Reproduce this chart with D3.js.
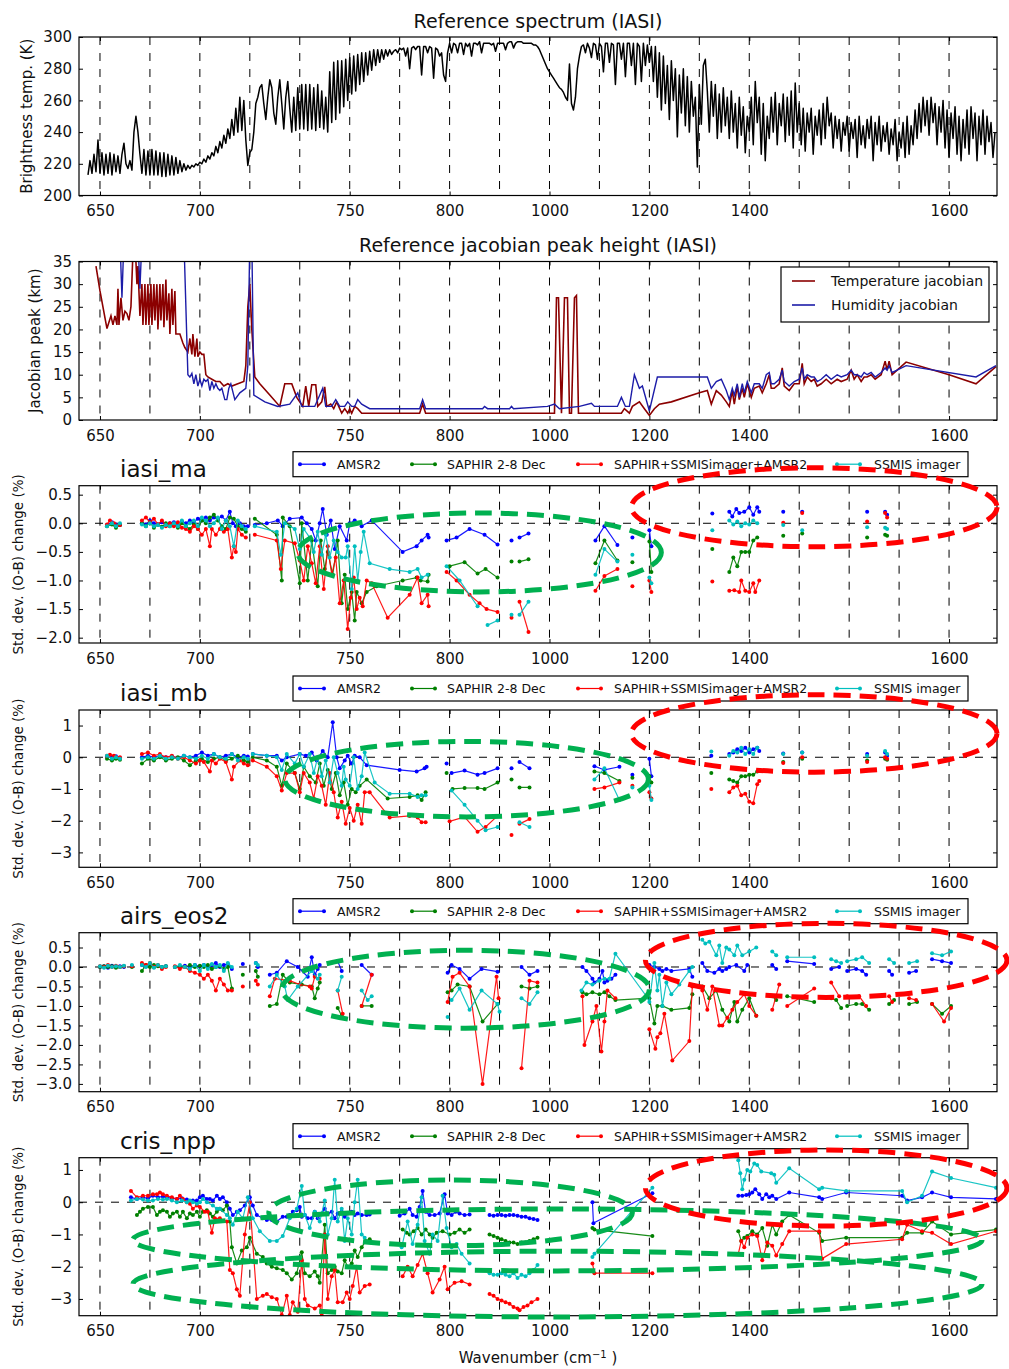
<!DOCTYPE html>
<html>
<head>
<meta charset="utf-8">
<script src="https://cdn.jsdelivr.net/npm/d3@7"></script>
<style>
body { margin: 0; background: #fff; }
text { font-family: "DejaVu Sans", sans-serif; }
</style>
</head>
<body>
<svg id="chart" width="1009" height="1369"></svg>
<script>
// x is the plot position of each channel; wavenumber labels sit at a few of them
const gridPos = [0, 50, 100, 150, 200, 250, 300, 350, 400, 450, 500, 550, 600, 650, 700, 750, 800, 850];
const labelPos = [0, 100, 250, 350, 450, 550, 650, 850];
const labelText = ['650', '700', '750', '800', '1000', '1200', '1400', '1600'];

// reference spectrum, one value every 2 plot units starting at -12
const specStart = -12;
const specStep = 2;
const specBT = [
  213,222,214,226,215,235,214,227,213,226,214,227,213,226,215,225,214,226,233,220,
  217,222,216,240,250,240,226,214,229,213,228,213,229,213,228,213,227,212,227,212,
  226,213,225,213,224,214,222,215,220,216,219,217,219,218,220,219,221,220,223,221,
  225,223,227,225,231,227,234,230,238,233,242,236,248,238,255,240,262,241,260,235,
  219,227,229,240,258,262,268,270,258,248,262,273,268,252,245,262,273,258,242,262,
  272,255,240,262,241,268,242,270,242,270,241,270,242,268,241,270,243,266,242,262,
  240,278,246,284,248,285,252,285,256,286,260,287,264,288,266,289,270,290,272,290,
  276,291,279,292,282,292,284,292,286,292,288,292,289,291,292,290,293,292,293,288,
  293,280,293,294,292,294,294,276,294,294,290,294,293,274,293,292,288,290,276,272,
  290,296,290,296,295,290,296,296,289,296,294,296,288,296,296,295,297,290,296,296,
  296,296,295,296,291,296,296,296,296,292,296,297,297,293,296,297,297,297,296,296,
  296,296,296,295,295,294,292,289,286,283,280,278,276,274,272,270,268,267,265,262,
  260,283,258,254,262,280,288,294,295,290,296,293,287,296,295,286,296,294,278,296,
  296,284,296,295,270,296,296,286,296,275,296,296,282,296,270,296,294,272,296,282,
  295,284,294,272,294,262,290,254,288,258,282,248,285,260,280,237,276,252,280,244,
  275,240,272,250,262,218,270,245,282,286,266,240,272,250,270,236,264,240,268,244,
  262,236,266,240,258,230,262,238,256,227,250,240,262,232,272,246,262,226,258,222,
  250,236,262,240,265,232,258,244,264,234,262,238,266,230,271,240,258,232,255,228,
  252,240,255,226,250,238,254,232,258,236,262,244,252,230,250,236,248,228,246,238,
  250,228,246,236,248,224,250,232,244,230,248,236,250,222,246,232,250,228,244,234,
  246,226,242,232,248,222,240,230,246,224,250,226,244,232,254,236,258,240,262,244,
  260,238,262,246,258,232,256,240,260,230,254,224,252,236,256,226,250,222,248,230,
  254,226,256,236,252,222,250,232,254,226,250,234,246,224,240
];

// jacobian peak heights (km) at plot positions
const tempJac = [[-4,34],[0,28.5],[7,20.2],[11,23],[13,21],[15,23],[17,21],[18,29],[19,21],[21,27],[23,22],[25,24],[27,23.5],[29,22],[31,25],[33,37],[35,40],[37,30],[38,34],[40,23],[42,30],[43,21],[45,30],[46,21],[48,30],[49,21],[51,30],[52,21],[54,30],[55,22],[57,30],[58,20],[60,30],[61,22],[63,30],[64,20.5],[66,31],[67,22],[69,28],[70,19],[72,29],[73,21],[75,28.5],[76,19],[80,19],[83,17],[85,16],[88,15],[90,18],[92,14.5],[93,19],[95,14],[97,18],[98,14],[100,15],[102,14.5],[104,14.5],[106,10],[108,9.5],[112,9],[116,8.5],[120,8.5],[124,7.5],[128,8],[132,7.5],[138,8],[144,8.5],[146,12],[148,25],[150,30],[152,20],[155,9.5],[160,8],[170,5.5],[180,3],[185,8],[192,8],[197,5],[203,3],[206,7.5],[209,3],[212,7.8],[216,7.8],[218,3],[222,4],[225,7.3],[227,3],[231,3.5],[234,2.5],[237,4],[239,3],[242,1.5],[245,2.5],[248,1.5],[250,2.5],[252,1.5],[255,3],[258,2.5],[262,1.5],[270,1.5],[320,1.5],[323,3.5],[326,1.5],[455,1.5],[457,27],[459,27],[462,1.5],[465,27],[468,27],[470,1.5],[472,1.5],[475,27],[477,27.5],[479,1.5],[522,1.5],[525,2.5],[530,1.5],[533,3],[540,4],[545,2.5],[550,1],[555,2.5],[560,3.5],[572,4],[600,6],[608,6.5],[612,3.5],[617,6.5],[622,5.5],[627,4],[630,3],[633,6.5],[635,3.5],[638,7.5],[640,4.5],[643,7],[645,5],[648,8],[652,5],[655,7],[660,7.5],[663,6],[667,8],[670,10],[672,7],[675,7],[680,8],[683,11.5],[685,7.5],[690,6.5],[695,8],[700,8],[703,12.5],[705,8],[708,9.5],[712,8.5],[715,9],[718,7.5],[722,8],[727,9],[732,8],[738,9],[742,8.5],[748,9],[752,11],[755,9],[758,10],[762,8.5],[765,9.5],[768,9.5],[772,10],[776,9],[782,10],[786,13],[788,11],[790,13],[793,10],[798,11],[807,12.8],[850,10],[877,8],[897,11.8]];
const humJac = [[20,40],[22,27],[24,40],[38,40],[40,29],[42,40],[84,40],[88,10],[90,9.5],[92,10.3],[94,8],[96,10],[98,7.5],[100,9],[102,7.5],[104,9],[106,8.5],[108,9],[110,6.5],[112,8.5],[114,7],[116,8],[118,7],[120,6.5],[122,7],[125,4.5],[127,4.5],[129,7],[131,8],[135,4.5],[140,6],[146,7],[148,12],[150,40],[152,40],[154,5.5],[165,4],[178,3],[190,3.5],[198,6],[202,3],[210,3],[215,3],[223,7],[226,3],[232,3],[236,4.5],[240,3],[245,3],[248,4],[252,3],[255,3],[258,4.5],[262,3.5],[270,2.5],[320,2.5],[323,4.5],[326,2.5],[383,2.5],[385,3],[388,2.5],[410,2.5],[412,3],[414,2.5],[448,3],[455,3.5],[460,2.5],[480,3],[492,3.7],[495,3],[518,3],[522,5],[526,3],[530,3],[535,10],[540,7],[543,7.5],[550,2],[558,9.5],[608,9.5],[612,7],[617,8.5],[622,9],[627,6.5],[630,4.5],[633,7],[635,5.5],[638,8],[640,5],[643,8],[645,6],[648,8.5],[652,6],[655,8],[660,8],[663,7],[667,10],[670,10.5],[672,8],[675,8],[680,9],[683,11],[685,8.5],[690,7.5],[695,8.5],[700,9],[703,11.5],[705,9],[708,10],[712,9.5],[715,9.5],[718,8.5],[722,9],[727,10],[732,9],[738,10],[742,9.5],[748,10],[752,11],[755,10],[758,10],[762,9.5],[765,10.5],[768,10],[772,10.5],[776,9.5],[782,10.5],[786,11.5],[788,11],[790,12],[793,10.5],[798,11],[807,12],[877,9.5],[897,12]];

const seriesNames = ['AMSR2', 'SAPHIR 2-8 Dec', 'SAPHIR+SSMISimager+AMSR2', 'SSMIS imager'];
const seriesColors = ['#0000ff', '#008000', '#ff0000', '#00bfbf'];

// std dev (O-B) change (%), segments of [plot position, value]
const maAmsr2 = [
  [[7,-0.03],[12,0.02],[16,-0.02],[20,-0.03]],
  [[42,0.0],[46,-0.02],[50,0.05],[54,0.0],[58,-0.02],[62,0.02],[66,-0.03],[70,0.0],[74,0.02],[78,-0.02],[82,0.03],[86,0.0],[90,0.05],[94,0.02],[98,0.08],[102,0.05],[106,0.1],[110,0.05],[114,0.1],[118,0.08],[122,0.12],[126,0.05],[130,0.2],[133,0.0],[136,-0.05],[140,0.0],[144,-0.05],[148,-0.05]],
  [[155,-0.03],[167,0.0],[178,0.05],[183,-0.05],[190,0.08],[202,0.1],[207,0.0],[212,-0.1],[216,-0.3],[220,0.0],[223,0.25],[227,-0.2],[231,0.05],[235,-0.45],[240,-0.05],[247,-0.3],[250,0.0],[255,0.05],[262,-0.05],[272,0.05],[303,-0.5],[317,-0.4],[322,-0.3],[328,-0.2],[329,-0.25]],
  [[347,-0.3],[357,-0.25],[370,-0.1],[385,-0.2],[398,-0.37]],
  [[412,-0.3]], [[420,-0.25],[429,-0.18]],
  [[496,-0.3],[505,-0.05],[518,-0.38]], [[533,-0.25]], [[550,-0.12],[552,-0.4]],
  [[613,0.17]],
  [[630,0.2],[633,0.12],[637,0.25],[640,0.18],[645,0.2],[650,0.28],[654,0.15],[658,0.28],[660,0.2]],
  [[684,0.2]], [[703,0.2]], [[768,0.2]], [[786,0.2],[788,0.15]]
];
const maSaphir = [
  [[7,-0.05],[12,-0.02],[16,-0.08],[20,-0.03]],
  [[42,0.0],[46,-0.05],[50,0.02],[54,-0.08],[58,-0.02],[62,-0.06],[66,0.0],[70,-0.05],[74,-0.02],[78,-0.08],[82,0.0],[86,-0.05],[90,-0.1],[94,-0.02],[98,-0.1],[102,0.05],[106,0.0],[110,0.1],[114,0.15],[118,0.05],[122,-0.05],[126,-0.1],[130,0.1],[134,0.08],[138,-0.05],[142,-0.1],[146,-0.15]],
  [[155,0.08],[177,-0.2],[182,-1.0],[183,0.1],[190,-0.05],[200,-1.05],[202,0.0],[208,-1.0],[212,-0.3],[218,-1.1],[221,-0.3],[225,-0.8],[228,-0.5],[233,-0.9],[238,-0.3],[242,-1.4],[245,-0.9],[248,-1.5],[252,-1.2],[255,-1.7],[257,-1.2],[262,-1.4],[267,-1.2],[277,-1.1],[303,-1.0],[317,-0.95],[321,-1.0],[328,-1.02],[329,-0.9]],
  [[350,-0.75],[365,-0.68],[378,-0.88],[386,-0.8],[398,-0.95]],
  [[412,-0.67]], [[420,-0.67],[429,-0.63]],
  [[496,-0.7],[505,-0.3],[518,-0.65]], [[533,-0.68]], [[550,-0.32],[552,-0.85]],
  [[613,-0.45]],
  [[630,-0.85],[634,-0.6],[638,-0.75],[642,-0.5],[646,-0.5],[650,-0.5],[654,-0.3],[658,-0.25]],
  [[684,-0.22]], [[703,-0.18]], [[768,-0.25]], [[786,-0.2],[788,-0.22]]
];
const maAll = [
  [[7,-0.02],[10,0.05],[14,0.0],[20,-0.03]],
  [[42,0.05],[46,0.1],[50,0.02],[54,0.08],[58,-0.02],[62,0.05],[66,-0.05],[70,0.0],[74,-0.05],[78,0.02],[82,-0.08],[86,-0.1],[90,-0.15],[94,-0.05],[98,-0.1],[102,-0.2],[106,-0.1],[110,-0.4],[112,-0.1],[116,-0.2],[120,-0.1],[124,-0.15],[128,-0.1],[132,-0.6],[134,-0.4],[136,-0.5],[138,-0.1],[142,-0.2],[146,-0.25]],
  [[155,-0.2],[177,-0.3],[181,-0.8],[185,-0.3],[195,-0.35],[200,-0.65],[204,-1.0],[208,-0.4],[212,-0.7],[216,-1.05],[220,-0.4],[224,-1.15],[228,-0.4],[232,-0.9],[236,-0.6],[240,-1.4],[244,-1.0],[248,-1.85],[251,-1.3],[254,-0.95],[257,-1.5],[260,-1.3],[263,-1.45],[267,-1.0],[272,-1.05],[288,-1.65],[310,-1.25],[318,-0.95],[322,-1.4],[328,-1.25],[329,-1.45]],
  [[347,-0.85],[357,-1.0],[370,-1.25],[380,-1.4],[387,-1.5],[398,-1.55]],
  [[412,-1.65]], [[420,-1.37],[429,-1.9]],
  [[496,-1.18],[505,-0.92],[518,-0.8]], [[533,-1.1]], [[550,-1.0],[552,-1.2]],
  [[613,-1.02]],
  [[630,-1.18],[635,-1.17],[640,-1.2],[642,-1.0],[646,-1.18],[650,-1.2],[654,-1.05],[656,-1.2],[660,-1.0]],
  [[684,0.01]], [[703,0.18]], [[768,0.03]], [[786,0.18],[788,0.1]]
];
const maSsmis = [
  [[7,-0.05],[12,0.0],[16,-0.05],[20,0.0]],
  [[42,-0.02],[46,-0.05],[50,0.0],[54,-0.05],[58,-0.03],[62,-0.08],[66,-0.03],[70,-0.05],[74,0.0],[78,-0.05],[82,0.05],[86,-0.05],[90,0.0],[94,0.05],[98,-0.05],[102,0.1],[106,0.05],[110,-0.05],[114,0.0],[118,0.1],[122,-0.1],[126,0.05],[130,-0.05],[134,-0.4],[138,0.05],[142,-0.05],[146,-0.1]],
  [[155,-0.05],[177,-0.15],[181,-0.55],[185,0.0],[195,-0.1],[200,-0.45],[204,-0.1],[210,-0.25],[214,-0.5],[218,-0.15],[222,-0.55],[226,-0.2],[230,-0.6],[234,-0.3],[238,-0.5],[242,-0.6],[246,-0.6],[248,-0.4],[252,-1.15],[255,-0.4],[258,-1.0],[261,-0.5],[264,-0.15],[270,-0.7],[290,-0.8],[310,-0.85],[318,-0.8],[322,-0.95],[328,-0.9]],
  [[347,-0.75],[360,-1.0],[378,-1.45]], [[388,-1.78],[398,-1.7]],
  [[412,-1.6]], [[420,-1.6],[429,-1.37]],
  [[496,-0.9],[505,-0.45],[518,-0.67]], [[533,-0.55]], [[550,-0.95],[552,-1.05]],
  [[613,-0.12]],
  [[630,0.05],[634,-0.02],[638,0.03],[642,-0.05],[646,0.0],[650,-0.02],[654,0.05],[658,0.0]],
  [[684,-0.03]], [[703,-0.12]], [[768,-0.07]], [[786,-0.08],[788,-0.1]]
];

const mbAmsr2 = [
  [[7,0.02],[12,0.0],[16,0.03],[20,-0.02]],
  [[42,0.0],[48,0.05],[54,0.0],[60,0.05],[66,0.0],[72,0.03],[78,-0.02],[84,0.05],[90,0.0],[96,0.05],[102,0.15],[108,0.05],[114,0.1],[120,0.0],[126,0.05],[132,0.1],[138,0.0],[144,0.05],[148,0.02]],
  [[153,0.1],[167,0.05],[177,0.05],[182,-0.1],[187,0.0],[200,0.1],[206,0.05],[212,0.15],[217,-0.1],[223,0.2],[228,0.0],[233,1.1],[237,0.0],[240,-0.35],[245,-0.1],[248,0.05],[252,-0.2],[255,0.05],[260,0.0],[267,-0.25],[300,-0.4],[317,-0.45],[325,-0.35],[327,-0.3]],
  [[347,-0.2]], [[352,-0.5],[365,-0.42],[378,-0.55],[385,-0.5],[398,-0.35]],
  [[412,-0.35]], [[420,-0.15],[430,-0.35]],
  [[495,-0.28],[505,-0.4],[520,-0.3]], [[533,-0.55]], [[550,-0.05],[552,-0.6]],
  [[612,0.05]],
  [[630,0.1],[634,0.15],[638,0.25],[642,0.2],[646,0.3],[650,0.15],[654,0.25],[658,0.3],[660,0.2]],
  [[684,0.12]], [[703,0.15]], [[768,0.1]], [[786,0.15],[788,0.05]]
];
const mbSaphir = [
  [[7,-0.05],[12,-0.1],[16,-0.05],[20,-0.08]],
  [[42,-0.2],[48,-0.05],[54,-0.1],[60,0.0],[66,-0.1],[72,-0.05],[78,0.0],[84,-0.1],[90,-0.25],[96,-0.1],[102,-0.05],[108,-0.15],[114,-0.05],[120,0.0],[126,-0.1],[132,-0.05],[138,0.05],[144,-0.1],[148,-0.15]],
  [[153,0.0],[167,-0.1],[177,-0.3],[182,-0.9],[187,-0.2],[195,-0.5],[200,-1.0],[204,-0.3],[210,-0.6],[216,-0.8],[220,-0.2],[224,-0.9],[228,-0.4],[232,-1.0],[236,-0.5],[240,-1.2],[244,-0.8],[248,-1.5],[252,-1.0],[256,-1.1],[260,-0.9],[267,-0.7],[288,-1.3],[310,-1.25],[318,-1.2],[322,-1.35],[326,-1.1]],
  [[347,-0.5]], [[353,-1.0],[365,-0.97],[378,-0.97],[385,-1.0],[398,-0.8]],
  [[412,-0.7]], [[420,-0.95],[430,-0.95]],
  [[495,-0.45],[505,-0.5],[520,-0.75]], [[533,-0.65]], [[550,-0.6],[552,-0.8]],
  [[612,-0.5]],
  [[630,-0.7],[634,-0.75],[638,-0.8],[642,-0.6],[646,-0.6],[650,-0.55],[654,-0.55],[658,-0.45]],
  [[684,-0.15]], [[703,-0.05]], [[768,-0.1]], [[786,-0.05],[788,-0.08]]
];
const mbAll = [
  [[7,0.05],[10,0.08],[14,0.05],[20,0.0]],
  [[42,0.1],[48,0.15],[54,0.05],[60,0.1],[66,0.0],[72,0.05],[78,-0.05],[84,0.0],[90,-0.1],[96,-0.2],[100,-0.1],[104,-0.15],[110,-0.45],[112,-0.1],[116,-0.2],[120,-0.05],[126,-0.15],[132,-0.7],[134,-0.3],[140,-0.1],[144,-0.2],[148,-0.25]],
  [[153,-0.1],[167,-0.3],[177,-0.6],[182,-1.05],[187,-0.5],[195,-0.5],[200,-1.1],[204,-0.5],[210,-0.8],[214,-1.3],[218,-0.6],[222,-0.9],[226,-1.5],[230,-0.5],[234,-1.1],[238,-1.9],[242,-1.4],[246,-2.1],[250,-1.6],[254,-2.0],[258,-1.5],[262,-2.1],[265,-1.1],[270,-1.1],[290,-1.9],[310,-1.85],[318,-1.9],[322,-2.05],[326,-2.05]],
  [[350,-2.02],[365,-1.88],[378,-2.35],[386,-2.2],[398,-1.85]],
  [[412,-2.45]], [[420,-2.1],[430,-1.95]],
  [[495,-1.0],[505,-0.95],[520,-0.8]], [[533,-0.9]], [[550,-1.1],[552,-1.3]],
  [[612,-1.0]],
  [[630,-1.1],[634,-0.95],[638,-0.9],[642,-1.2],[646,-1.15],[650,-1.4],[654,-1.45],[658,-0.85],[660,-0.75]],
  [[684,-0.18]], [[703,0.0]], [[768,-0.15]], [[786,0.0],[788,-0.05]]
];
const mbSsmis = [
  [[7,0.05],[12,-0.05],[16,0.0],[20,-0.05]],
  [[42,-0.05],[48,0.0],[54,-0.05],[60,0.05],[66,-0.05],[72,0.0],[78,-0.05],[84,0.05],[90,0.0],[96,-0.05],[102,0.05],[108,-0.05],[114,0.1],[120,0.0],[126,-0.05],[132,0.1],[138,-0.1],[144,0.0],[148,-0.05]],
  [[153,0.1],[167,0.05],[177,0.0],[182,-0.4],[187,0.1],[195,-0.2],[200,0.1],[204,-0.3],[210,0.1],[214,-0.5],[218,0.0],[222,-0.6],[226,-0.1],[230,-0.8],[234,0.0],[238,-0.5],[242,-0.9],[244,-0.3],[246,-0.7],[250,-0.9],[254,0.0],[258,-1.0],[262,-0.6],[265,0.15],[275,-0.8],[290,-1.15],[310,-1.15],[318,-1.25],[322,-1.2],[326,-1.2]],
  [[352,-1.05],[365,-1.5],[378,-2.0],[386,-2.3],[398,-2.2]],
  [[420,-2.05],[430,-2.2]],
  [[495,-0.7],[505,-0.35],[520,-1.35]], [[533,-0.95]], [[550,-0.9],[552,-1.35]],
  [[612,0.18]],
  [[630,0.05],[634,0.2],[638,0.15],[642,0.3],[646,0.1],[650,0.25],[654,0.1],[658,0.3]],
  [[684,0.1]], [[703,0.15]], [[768,0.05]], [[786,0.2],[788,0.1]]
];

const airsAmsr2 = [
  [[0,0.0],[4,0.02],[8,-0.02],[12,0.03],[16,0.0],[20,0.02],[24,0.0]], [[32,0.02]],
  [[42,0.05],[46,0.02],[50,0.08],[54,0.0],[58,0.03],[62,0.0],[66,0.02]],
  [[75,0.0],[80,0.02],[85,0.03],[90,0.0],[95,0.05],[100,0.02],[104,0.05],[108,0.0],[112,0.05],[116,0.1],[120,0.0],[124,0.05],[128,0.08],[132,-0.05]],
  [[143,0.08]], [[156,0.1],[158,0.0]],
  [[170,-0.2],[177,-0.15],[187,0.15],[198,0.0],[208,-0.25],[212,0.25],[215,-0.2],[218,-0.05],[220,0.05]],
  [[238,0.15],[242,-0.1]], [[262,0.05],[272,-0.2]],
  [[348,-0.15],[352,0.05],[360,-0.05],[370,-0.3],[382,-0.05],[398,-0.12]],
  [[422,0.0],[430,-0.2],[438,-0.1]],
  [[483,0.0],[487,-0.1],[493,-0.3],[495,-0.4],[500,-0.3],[503,-0.1],[505,-0.4],[508,-0.35],[512,-0.3],[516,-0.2]],
  [[550,0.05],[555,0.0],[560,-0.05],[563,-0.1],[567,-0.05],[572,-0.1],[590,-0.05],[593,-0.25]],
  [[603,0.1],[608,-0.1],[615,-0.15],[620,-0.05],[623,-0.1],[627,-0.05],[630,0.0],[637,0.05],[645,-0.1],[648,0.05]],
  [[673,0.05],[677,-0.05]], [[688,0.15],[715,0.08]], [[732,-0.05],[740,0.0]],
  [[748,-0.1],[757,-0.05],[763,-0.1],[767,-0.2]], [[790,-0.1],[793,-0.2]], [[810,-0.15],[817,-0.1]],
  [[833,0.2],[843,0.15],[852,0.1]]
];
const airsSaphir = [
  [[0,0.0],[4,0.02],[8,0.0],[12,0.02],[16,-0.02],[20,0.0],[24,0.02]], [[32,0.0]],
  [[42,-0.1],[46,0.05],[50,0.0],[54,0.05],[58,0.02],[62,0.0],[66,0.02]],
  [[75,0.0],[80,0.02],[85,0.0],[90,0.05],[95,0.0],[100,0.03],[104,0.0],[108,0.05],[112,-0.05],[116,0.0],[120,0.02],[124,-0.05],[128,0.0],[132,-0.55]],
  [[143,-0.2]], [[156,-0.1],[158,-0.25]],
  [[170,-1.0],[177,-0.95],[183,-0.2],[190,-0.4],[202,-0.45],[212,-0.5],[215,-0.8],[218,-0.55],[220,-0.4]],
  [[238,-1.05],[242,-1.25]], [[262,-1.0],[272,-1.0]],
  [[348,-0.65],[352,-0.6],[358,-0.45],[370,-0.5],[383,-1.4],[398,-0.95]],
  [[422,-0.5],[430,-0.55],[438,-0.5]],
  [[483,-0.65],[487,-0.7],[493,-0.65],[500,-0.7],[505,-0.65],[510,-0.75],[516,-0.85],[550,-0.8],[555,-1.45],[558,-1.0],[563,-1.0],[572,-1.1],[590,-1.05],[593,-0.7]],
  [[603,-0.5],[610,-0.8],[617,-0.6],[623,-1.1],[630,-1.4],[635,-0.9],[638,-1.4],[643,-1.1],[650,-0.8],[657,-1.25]],
  [[673,-0.75],[677,-0.85]], [[688,-0.75],[715,-0.9]], [[732,-0.8],[737,-0.85],[742,-1.05]],
  [[748,-1.0],[757,-0.95],[763,-0.95],[770,-1.1]], [[790,-0.95],[795,-0.85]], [[810,-0.95],[818,-0.9]],
  [[833,-0.95],[843,-1.2],[852,-1.0]]
];
const airsAll = [
  [[0,0.02],[4,0.0],[8,0.05],[12,0.0],[16,0.03],[20,0.0],[24,0.02]], [[32,0.02]],
  [[42,0.1],[46,0.05],[50,0.1],[54,0.0],[58,0.05],[62,-0.05],[66,0.0]],
  [[75,0.02],[80,-0.05],[85,0.0],[90,-0.1],[95,-0.15],[100,-0.2],[104,-0.3],[108,-0.2],[112,-0.35],[116,-0.6],[120,-0.3],[124,-0.45],[128,-0.6],[132,-0.6]],
  [[143,-0.5]], [[156,-0.35],[158,-0.45]],
  [[170,-0.75],[175,-0.3],[190,-0.35],[200,-0.45],[210,-0.5],[212,-0.55],[215,-0.25],[220,-0.3]],
  [[238,-0.6],[243,-1.2]], [[262,-1.0],[272,-0.2]],
  [[348,-0.9],[353,-0.25],[360,-0.15],[370,-0.5],[383,-3.0],[397,-0.25],[399,-0.8]],
  [[422,-2.6],[430,-0.35],[438,-0.4]],
  [[483,-0.75],[485,-2.0],[493,-1.4],[497,-1.0],[502,-2.17],[505,-1.4],[508,-0.6],[516,-0.8]],
  [[550,-1.6],[556,-2.1],[558,-1.8],[561,-1.7],[565,-1.2],[573,-2.4],[590,-1.9],[593,-0.5]],
  [[603,-0.6],[608,-1.1],[613,-0.5],[620,-1.5],[623,-1.5],[628,-1.3],[633,-1.1],[638,-0.9],[645,-0.7],[650,-1.0],[657,-1.25]],
  [[673,-1.1],[680,-0.45]], [[688,-1.0],[715,-0.55]], [[732,-0.4],[740,-0.75]],
  [[748,-0.75],[760,-0.75],[767,-1.0]], [[790,-0.75],[793,-0.9]], [[810,-0.8],[817,-0.85]],
  [[833,-0.95],[845,-1.4],[852,-1.05]]
];
const airsSsmis = [
  [[0,0.02],[4,-0.02],[8,0.03],[12,0.0],[16,0.02],[20,0.0],[24,0.03]], [[32,0.05]],
  [[42,0.05],[46,0.0],[50,0.1],[54,-0.02],[58,0.05],[62,0.0],[66,0.02]],
  [[75,0.0],[80,0.05],[85,0.0],[90,-0.05],[95,0.05],[100,-0.1],[104,0.05],[108,-0.05],[112,0.08],[116,0.0],[120,0.05],[124,-0.1],[128,0.1],[132,0.0]],
  [[156,0.1],[158,0.05]],
  [[170,-0.5],[177,-0.2],[185,-0.5],[188,-0.85],[198,-0.5],[212,-0.1],[218,-0.3],[220,-0.2]],
  [[238,-0.6],[242,-0.25]], [[262,-0.6],[268,-0.85],[272,-0.75]],
  [[348,-1.28]], [[352,-0.85],[360,-0.55],[370,-1.1],[382,-0.6],[398,-0.95],[400,-1.15]],
  [[422,-0.8],[430,-0.95],[438,-0.65]],
  [[482,-0.6],[487,-0.4],[493,-0.45],[500,-0.35],[505,-0.3],[510,-0.3],[516,0.34],[547,-0.75],[550,-0.9],[555,0.1],[558,-0.6],[560,-0.2],[563,-1.0],[567,-0.4],[572,-0.7],[580,-0.45],[590,-0.1],[593,0.0]],
  [[603,0.7],[606,0.6],[610,0.65],[617,0.3],[620,0.55],[623,0.1],[627,0.5],[630,0.45],[635,0.3],[638,0.55],[643,0.3],[650,0.4],[657,0.5]],
  [[673,0.4],[677,0.3]], [[688,0.25],[715,0.25]], [[732,0.2],[737,0.15],[742,0.1]],
  [[748,0.15],[757,0.2],[763,0.25],[770,0.1]], [[790,0.2],[795,0.1]], [[810,0.1],[818,0.15]],
  [[833,0.35],[843,0.3],[852,0.4]]
];

const crisAmsr2 = [
  [[31,0.15],[37,0.1],[43,0.15],[48,0.12],[53,0.2],[58,0.15],[63,0.18],[67,0.15],[72,0.12],[77,0.1],[82,0.12],[87,0.08],[93,0.05],[97,0.05],[100,0.15],[103,0.2],[107,0.1],[110,0.1],[113,0.05],[117,0.2],[120,0.1],[123,0.15],[127,0.0],[130,-0.2],[133,-0.4],[137,-0.3],[140,-0.25],[145,-0.1],[150,0.15],[153,-0.1],[157,-0.4],[163,-0.5],[167,-0.55],[172,-0.55],[177,-0.6],[183,-0.45],[187,-0.45],[190,-0.4],[193,-0.3],[197,-0.25],[200,-0.15],[202,-0.45],[205,-0.4],[208,-0.5],[212,-0.5],[215,-0.3],[218,-0.5],[222,-0.35],[225,-0.2],[228,-0.35],[232,-0.3],[235,-0.5],[238,-0.35],[242,-0.3],[245,-0.45],[248,-0.35],[252,-0.3],[255,-0.4],[258,-0.35],[262,-0.4],[267,-0.4],[270,-0.38]],
  [[300,-0.42],[305,-0.35],[310,-0.2],[313,-0.4],[317,-0.45],[320,-0.15],[323,0.35],[326,-0.3],[330,-0.4],[335,-0.4],[340,-0.35],[345,0.25],[348,-0.35],[352,-0.4],[356,-0.3],[360,-0.35],[365,-0.4],[370,-0.38]],
  [[390,-0.4],[394,-0.42],[398,-0.4],[402,-0.4],[406,-0.42],[410,-0.4],[414,-0.4],[418,-0.42],[422,-0.45],[426,-0.45],[430,-0.5],[434,-0.52],[438,-0.55]],
  [[493,0.0],[494,-0.65],[553,0.28]],
  [[639,0.2],[643,0.2],[647,0.22],[650,0.25],[653,0.3],[656,0.4],[660,0.25],[663,0.1],[667,0.25],[670,0.15],[673,0.2],[677,0.1],[690,0.3],[720,0.15],[723,0.1],[747,0.3],[803,0.2],[808,0.05],[823,0.15],[833,0.3],[852,0.15],[897,0.1]]
];
const crisSaphir = [
  [[37,-0.4],[40,-0.3],[43,-0.2],[48,-0.15],[53,-0.15],[57,-0.4],[60,-0.3],[63,-0.25],[67,-0.3],[70,-0.45],[73,-0.35],[77,-0.3],[80,-0.45],[83,-0.3],[87,-0.5],[90,-0.35],[93,-0.4],[97,-0.3],[100,-0.45],[103,-0.3],[107,-0.25],[110,-0.35],[113,-0.45],[117,-0.3],[120,-0.2],[123,-0.25],[127,-0.1],[130,-0.6],[132,-1.4],[137,-1.9],[142,-1.5],[147,-1.4],[150,-1.1],[157,-1.6],[163,-1.7],[167,-1.9],[172,-2.0],[177,-2.05],[183,-2.1],[187,-2.2],[192,-2.4],[197,-2.2],[202,-1.55],[205,-2.2],[210,-2.3],[215,-2.15],[218,-2.3],[220,-2.5],[225,-0.7],[228,-2.2],[232,-2.1],[235,-2.0],[238,-2.15],[242,-2.2],[245,-1.8],[248,-2.0],[252,-1.9],[255,-1.5],[258,-1.7],[262,-1.4],[266,-1.2],[270,-1.15]],
  [[303,-0.85],[307,-0.95],[310,-1.0],[314,-0.9],[318,-0.8],[322,-1.0],[326,-0.85],[330,-1.0],[333,-1.1],[337,-0.95],[343,-0.9],[350,-1.0],[355,-0.95],[360,-0.85],[365,-0.95],[370,-0.85]],
  [[390,-1.0],[394,-1.05],[398,-1.1],[402,-1.15],[406,-1.2],[410,-1.25],[414,-1.25],[418,-1.3],[422,-1.25],[426,-1.25],[430,-1.2],[434,-1.15],[438,-1.1]],
  [[493,-0.8],[495,-0.85],[553,-1.05]],
  [[639,-0.9],[642,-1.2],[645,-1.1],[648,-1.05],[653,-0.9],[658,-1.0],[663,-0.8],[668,-1.35],[673,-0.7],[677,-1.0],[683,-0.6],[690,-0.4],[720,-0.95],[723,-1.2],[747,-1.1],[803,-1.1],[808,-0.95],[823,-0.95],[833,-0.6],[852,-1.0],[897,-0.85]]
];
const crisAll = [
  [[31,0.35],[37,0.15],[43,0.2],[48,0.2],[53,0.25],[57,0.25],[60,0.3],[63,0.25],[67,0.2],[72,0.15],[77,0.1],[80,0.2],[83,0.1],[87,0.0],[90,-0.05],[93,-0.2],[97,-0.1],[100,-0.15],[105,-0.3],[108,-0.3],[112,-0.95],[115,-0.5],[120,-0.5],[127,-0.6],[130,-2.1],[133,-2.2],[137,-2.7],[140,-2.9],[145,-1.0],[150,0.0],[157,-3.0],[163,-2.9],[167,-2.85],[172,-2.95],[177,-3.0],[182,-3.5],[187,-2.9],[190,-3.5],[193,-3.1],[198,-3.4],[202,-1.8],[205,-3.0],[208,-3.2],[215,-3.3],[220,-3.2],[222,-3.5],[225,-1.0],[228,-3.0],[232,-2.3],[235,-2.1],[238,-3.1],[243,-3.1],[247,-2.8],[250,-3.0],[253,-2.6],[257,-2.0],[260,-2.8],[265,-2.6],[270,-2.55]],
  [[303,-2.3],[308,-2.0],[313,-2.3],[318,-1.95],[323,-1.6],[328,-2.2],[333,-2.8],[340,-2.4],[345,-2.0],[348,-2.7],[355,-2.5],[362,-2.45],[370,-2.55]],
  [[390,-2.85],[394,-2.9],[398,-3.0],[402,-3.05],[406,-3.1],[410,-3.15],[414,-3.25],[418,-3.3],[420,-3.35],[424,-3.25],[428,-3.2],[432,-3.1],[438,-3.0]],
  [[493,-1.9],[495,-2.2],[553,-2.2]],
  [[639,-1.6],[642,-1.2],[645,-1.4],[648,-1.1],[653,-1.0],[658,-1.05],[663,-1.8],[668,-1.25],[673,-1.35],[677,-1.65],[683,-1.3],[690,-0.9],[720,-0.9],[723,-1.75],[747,-1.3],[803,-1.15],[808,-0.7],[823,-0.9],[833,-0.95],[852,-1.3],[897,-0.9]]
];
const crisSsmis = [
  [[31,0.05],[37,0.1],[43,0.08],[48,0.05],[53,0.05],[58,0.1],[63,0.08],[67,0.1],[72,0.05],[77,0.0],[82,0.05],[87,0.0],[90,0.05],[93,0.0],[97,-0.05],[100,0.0],[103,0.1],[107,0.0],[113,-0.1],[117,-0.2],[120,-0.2],[127,-0.4],[130,-0.5],[133,-0.7],[138,-0.3],[143,-0.5],[148,0.15],[153,-0.5],[160,-0.9],[170,-1.2],[177,-1.2],[183,-1.05],[190,-0.5],[197,-0.2],[202,0.5],[205,-0.4],[210,-0.8],[215,-0.3],[220,-0.6],[225,0.05],[228,-1.0],[232,-0.5],[235,0.7],[238,-0.6],[242,-0.2],[245,-1.2],[248,-0.5],[252,-1.0],[255,0.0],[258,0.7],[262,-1.0],[265,-1.1]],
  [[302,-1.4],[308,-0.6],[313,-1.3],[318,-0.7],[322,0.15],[325,-1.2],[330,-1.6],[333,-1.0],[338,-1.2],[343,0.2],[347,-0.8],[352,-1.4],[357,-1.3],[362,-1.6],[370,-1.9]],
  [[390,-2.2],[394,-2.25],[398,-2.25],[402,-2.2],[406,-2.25],[410,-2.3],[414,-2.2],[418,-2.35],[422,-2.25],[426,-2.3],[430,-2.2],[434,-2.1],[438,-1.95]],
  [[493,-1.7],[495,-1.6],[553,0.45]],
  [[639,1.3],[641,0.9],[643,0.4],[645,0.7],[648,1.0],[651,0.95],[655,1.2],[658,1.15],[662,0.95],[672,0.9],[675,0.85],[677,0.6],[690,1.05],[720,0.4],[723,0.45],[747,0.35],[803,0.35],[808,0.0],[823,0.2],[833,0.95],[852,0.75],[897,0.45]]
];

// hand-drawn highlight rings: [centre position, centre value, half width, half height]
const maGreen = [[380, -0.51, 182, 0.69]];
const maRed = [[715, 0.28, 183, 0.69]];
const mbGreen = [[367, -0.69, 182, 1.19]];
const mbRed = [[715, 0.75, 183, 1.22]];
const airsGreen = [[366, -0.57, 184, 1.0]];
const airsRed = [[727, 0.17, 181, 0.95]];
const crisGreen = [[351, -0.33, 182, 1.02], [458, -1.17, 425, 0.96], [458, -2.54, 425, 1.02]];
const crisRed = [[727, 0.44, 181, 1.18]];

const svg = d3.select('#chart');
const plotLeft = 79, plotRight = 997;
const x = d3.scaleLinear().domain([-21, 898]).range([plotLeft, plotRight]);
let clipCount = 0;

// draws dashed grid and returns a clipped group for the data
function startPanel(top, bottom) {
  const id = 'clip' + (clipCount++);
  svg.append('clipPath').attr('id', id).append('rect')
    .attr('x', plotLeft).attr('y', top).attr('width', plotRight - plotLeft).attr('height', bottom - top);
  svg.append('g').selectAll('line').data(gridPos).enter().append('line')
    .attr('x1', d => x(d)).attr('x2', d => x(d))
    .attr('y1', top).attr('y2', bottom)
    .attr('stroke', '#000').attr('stroke-width', 1).attr('stroke-dasharray', '8,8');
  return svg.append('g').attr('clip-path', `url(#${id})`);
}

// frame, inward ticks and labels
function finishPanel(top, bottom, y, yTicks, fmt, yLabel, yLabelX) {
  const g = svg.append('g');
  g.append('rect').attr('x', plotLeft).attr('y', top)
    .attr('width', plotRight - plotLeft).attr('height', bottom - top)
    .attr('fill', 'none').attr('stroke', '#000').attr('stroke-width', 1.2);

  g.append('g').attr('transform', `translate(0,${bottom})`)
    .call(d3.axisBottom(x).tickValues(labelPos).tickFormat((d, i) => labelText[i])
      .tickSizeInner(-4).tickSizeOuter(0).tickPadding(10));
  g.append('g').attr('transform', `translate(0,${top})`)
    .call(d3.axisTop(x).tickValues(labelPos).tickFormat('').tickSizeInner(-4).tickSizeOuter(0));
  g.append('g').attr('transform', `translate(${plotLeft},0)`)
    .call(d3.axisLeft(y).tickValues(yTicks).tickFormat(d3.format(fmt))
      .tickSizeInner(-4).tickSizeOuter(0).tickPadding(7));
  g.append('g').attr('transform', `translate(${plotRight},0)`)
    .call(d3.axisRight(y).tickValues(yTicks).tickFormat('').tickSizeInner(-4).tickSizeOuter(0));
  g.selectAll('.domain').remove();
  g.selectAll('.tick line').attr('stroke', '#000');
  g.selectAll('.tick text').attr('font-family', '"DejaVu Sans", sans-serif')
    .attr('font-size', 15).attr('fill', '#111');

  g.append('text')
    .attr('transform', `translate(${yLabelX},${(top + bottom) / 2}) rotate(-90)`)
    .attr('text-anchor', 'middle').attr('dy', '0.35em')
    .attr('font-size', yLabel.length > 22 ? 13.5 : 15).attr('fill', '#111')
    .text(yLabel);
}

// ---- panel 1: reference spectrum ----
{
  const top = 37, bottom = 195.5;
  const y = d3.scaleLinear().domain([200, 300]).range([bottom, top]);
  const plot = startPanel(top, bottom);
  const line = d3.line().x((d, i) => x(specStart + i * specStep)).y(d => y(d));
  plot.append('path').datum(specBT).attr('d', line)
    .attr('fill', 'none').attr('stroke', '#000').attr('stroke-width', 1.5).attr('stroke-linejoin', 'round');
  finishPanel(top, bottom, y, [200, 220, 240, 260, 280, 300], 'd', 'Brightness temp. (K)', 27);
  svg.append('text').attr('x', 538).attr('y', 28).attr('text-anchor', 'middle')
    .attr('font-size', 19).attr('fill', '#111').text('Reference spectrum (IASI)');
}

// ---- panel 2: jacobian peak heights ----
{
  const top = 261.5, bottom = 420;
  const y = d3.scaleLinear().domain([0, 35]).range([bottom, top]);
  const plot = startPanel(top, bottom);
  const line = d3.line().x(d => x(d[0])).y(d => y(d[1]));
  plot.append('path').datum(tempJac).attr('d', line)
    .attr('fill', 'none').attr('stroke', '#8b0000').attr('stroke-width', 1.6);
  plot.append('path').datum(humJac).attr('d', line)
    .attr('fill', 'none').attr('stroke', '#1c1ca8').attr('stroke-width', 1.4);
  finishPanel(top, bottom, y, [0, 5, 10, 15, 20, 25, 30, 35], 'd', 'Jacobian peak (km)', 35);
  svg.append('text').attr('x', 538).attr('y', 251.5).attr('text-anchor', 'middle')
    .attr('font-size', 19).attr('fill', '#111').text('Reference jacobian peak height (IASI)');

  const lg = svg.append('g');
  lg.append('rect').attr('x', 781).attr('y', 267).attr('width', 208).attr('height', 55)
    .attr('fill', '#fff').attr('stroke', '#000').attr('stroke-width', 1.2);
  [['Temperature jacobian', '#8b0000', 281], ['Humidity jacobian', '#1c1ca8', 305]].forEach(e => {
    lg.append('line').attr('x1', 792).attr('x2', 815).attr('y1', e[2]).attr('y2', e[2])
      .attr('stroke', e[1]).attr('stroke-width', 1.6);
    lg.append('text').attr('x', 831).attr('y', e[2]).attr('dy', '0.35em')
      .attr('font-size', 14).attr('fill', '#111').text(e[0]);
  });
}

// ---- panels 3-6: std dev change ----
const changePanels = [
  { name: 'iasi_ma', top: 485.7, bottom: 643, dom: [-2.093, 0.657], ticks: [-2, -1.5, -1, -0.5, 0, 0.5], fmt: '.1f',
    series: [maAmsr2, maSaphir, maAll, maSsmis], green: maGreen, red: maRed },
  { name: 'iasi_mb', top: 710, bottom: 867.3, dom: [-3.47, 1.49], ticks: [-3, -2, -1, 0, 1], fmt: 'd',
    series: [mbAmsr2, mbSaphir, mbAll, mbSsmis], green: mbGreen, red: mbRed },
  { name: 'airs_eos2', top: 932.7, bottom: 1091.7, dom: [-3.2, 0.88], ticks: [-3, -2.5, -2, -1.5, -1, -0.5, 0, 0.5], fmt: '.1f',
    series: [airsAmsr2, airsSaphir, airsAll, airsSsmis], green: airsGreen, red: airsRed },
  { name: 'cris_npp', top: 1157.7, bottom: 1315.7, dom: [-3.52, 1.38], ticks: [-3, -2, -1, 0, 1], fmt: 'd',
    series: [crisAmsr2, crisSaphir, crisAll, crisSsmis], green: crisGreen, red: crisRed }
];

changePanels.forEach(p => {
  const y = d3.scaleLinear().domain(p.dom).range([p.bottom, p.top]);
  const plot = startPanel(p.top, p.bottom);
  // zero line
  plot.append('line').attr('x1', plotLeft).attr('x2', plotRight).attr('y1', y(0)).attr('y2', y(0))
    .attr('stroke', '#000').attr('stroke-width', 1).attr('stroke-dasharray', '8,8');

  const line = d3.line().x(d => x(d[0])).y(d => y(d[1]));
  p.series.forEach((segs, si) => {
    const sg = plot.append('g');
    sg.selectAll('path').data(segs.filter(s => s.length > 1)).enter().append('path')
      .attr('d', line).attr('fill', 'none')
      .attr('stroke', seriesColors[si]).attr('stroke-width', 1.2).attr('stroke-opacity', 0.9);
    sg.selectAll('circle').data(segs.flat()).enter().append('circle')
      .attr('cx', d => x(d[0])).attr('cy', d => y(d[1])).attr('r', 2)
      .attr('fill', seriesColors[si]);
  });

  finishPanel(p.top, p.bottom, y, p.ticks, p.fmt, 'Std. dev. (O-B) change (%)', 18);

  // panel name and legend
  svg.append('text').attr('x', 120).attr('y', p.top - 9)
    .attr('font-size', 23).attr('fill', '#111').text(p.name);
  const lg = svg.append('g');
  lg.append('rect').attr('x', 293).attr('y', p.top - 34).attr('width', 675).attr('height', 25)
    .attr('fill', '#fff').attr('stroke', '#000').attr('stroke-width', 1.2);
  const ly = p.top - 21.5;
  const lgX = [[300, 324, 337], [412, 435, 447], [578, 601, 614], [837, 860, 874]];
  seriesNames.forEach((n, i) => {
    lg.append('line').attr('x1', lgX[i][0]).attr('x2', lgX[i][1]).attr('y1', ly).attr('y2', ly)
      .attr('stroke', seriesColors[i]).attr('stroke-width', 1.2);
    [lgX[i][0], lgX[i][1]].forEach(cx => lg.append('circle').attr('cx', cx).attr('cy', ly).attr('r', 2)
      .attr('fill', seriesColors[i]));
    lg.append('text').attr('x', lgX[i][2]).attr('y', ly).attr('dy', '0.35em')
      .attr('font-size', 12.5).attr('fill', '#111').text(n);
  });

  // highlight rings, drawn on top and not clipped
  const rings = svg.append('g');
  [[p.green, '#00b050'], [p.red, '#ff0000']].forEach(r => {
    rings.selectAll(null).data(r[0]).enter().append('ellipse')
      .attr('cx', d => x(d[0])).attr('cy', d => y(d[1]))
      .attr('rx', d => x(d[0] + d[2]) - x(d[0])).attr('ry', d => y(d[1] - d[3]) - y(d[1]))
      .attr('fill', 'none').attr('stroke', r[1]).attr('stroke-width', 5)
      .attr('stroke-dasharray', '17,9');
  });
});

// x axis title
const xt = svg.append('text').attr('x', 538).attr('y', 1363).attr('text-anchor', 'middle')
  .attr('font-size', 15).attr('fill', '#111');
xt.append('tspan').text('Wavenumber (cm');
xt.append('tspan').attr('baseline-shift', 'super').attr('font-size', 10).text('\u22121');
xt.append('tspan').text(' )');
</script>
</body>
</html>
